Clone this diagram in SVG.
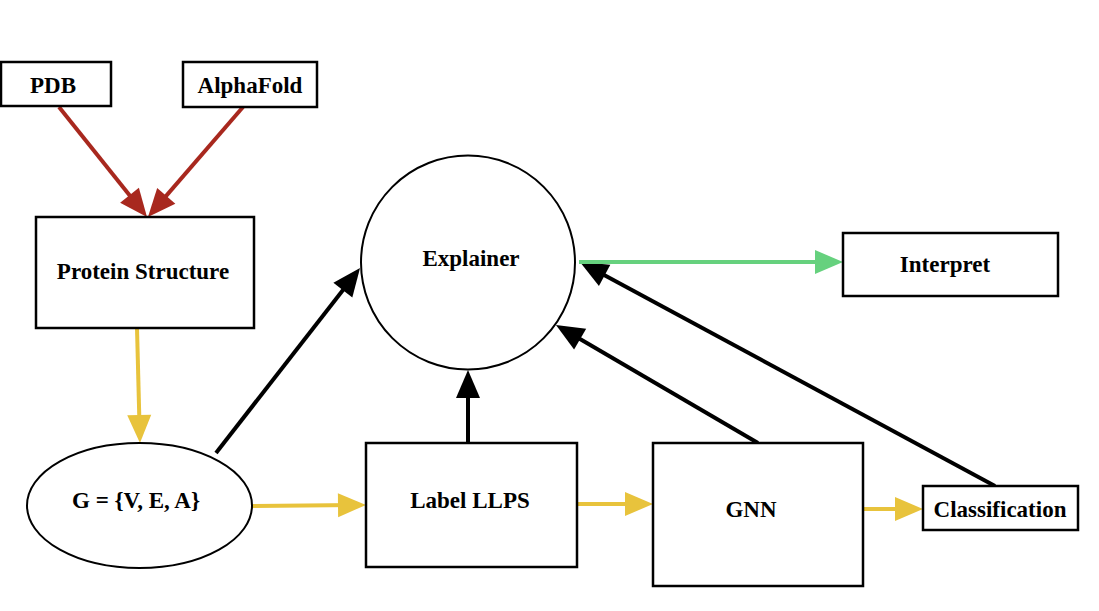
<svg xmlns="http://www.w3.org/2000/svg" width="1099" height="611" viewBox="0 0 1099 611">
<style>
.box{fill:#fff;stroke:#000;stroke-width:2.5}
.oval{fill:#fff;stroke:#000;stroke-width:2}
.lbl{font-family:"Liberation Serif","Times New Roman",serif;font-weight:bold;font-size:23px;fill:#000;text-anchor:middle}
.red{stroke:#A8281E;stroke-width:4;fill:none;marker-end:url(#ah-red)}
.yel{stroke:#E8C33C;stroke-width:4;fill:none;marker-end:url(#ah-yel)}
.blk{stroke:#000;stroke-width:4;fill:none;marker-end:url(#ah-blk)}
.grn{stroke:#66D17E;stroke-width:4;fill:none;marker-end:url(#ah-grn)}
</style>
<defs>
<marker id="ah-red" markerUnits="userSpaceOnUse" markerWidth="28" markerHeight="24" refX="18" refY="12" orient="auto" overflow="visible"><path d="M0,0 L28,12 L0,24 Z" fill="#A8281E"/></marker>
<marker id="ah-yel" markerUnits="userSpaceOnUse" markerWidth="28" markerHeight="24" refX="18" refY="12" orient="auto" overflow="visible"><path d="M0,0 L28,12 L0,24 Z" fill="#E8C33C"/></marker>
<marker id="ah-blk" markerUnits="userSpaceOnUse" markerWidth="28" markerHeight="24" refX="18" refY="12" orient="auto" overflow="visible"><path d="M0,0 L28,12 L0,24 Z" fill="#000"/></marker>
<marker id="ah-grn" markerUnits="userSpaceOnUse" markerWidth="28" markerHeight="24" refX="18" refY="12" orient="auto" overflow="visible"><path d="M0,0 L28,12 L0,24 Z" fill="#66D17E"/></marker>
</defs>
<rect width="1099" height="611" fill="#fff"/>
<g id="connectors">
<line class="red" x1="59" y1="107" x2="140.75" y2="209.2"/>
<line class="red" x1="243" y1="107" x2="154.5" y2="209.4"/>
<line class="yel" x1="137" y1="328" x2="139.7" y2="433"/>
<line class="yel" x1="252" y1="506" x2="356" y2="505"/>
<line class="yel" x1="577" y1="504" x2="643" y2="504"/>
<line class="yel" x1="863" y1="509" x2="913" y2="509"/>
<line class="blk" x1="216" y1="453" x2="353.9" y2="275.9"/>
<line class="blk" x1="468" y1="443" x2="468" y2="380"/>
<line class="blk" x1="758" y1="443" x2="564.6" y2="330"/>
<line class="blk" x1="995" y1="486" x2="588.8" y2="266.8"/>
<line class="grn" x1="579" y1="262" x2="833" y2="262"/>
</g>
<g id="pdb"><rect class="box" x="1" y="62" width="110" height="44"/><text class="lbl" x="53" y="93">PDB</text></g>
<g id="alphafold"><rect class="box" x="183" y="62" width="134" height="45"/><text class="lbl" x="250" y="93">AlphaFold</text></g>
<g id="protein"><rect class="box" x="36" y="217" width="218" height="111"/><text class="lbl" x="143" y="279">Protein Structure</text></g>
<g id="explainer"><circle class="oval" cx="468" cy="262.5" r="107"/><text class="lbl" x="471" y="266">Explainer</text></g>
<g id="interpret"><rect class="box" x="843" y="233" width="215" height="63"/><text class="lbl" x="945" y="272">Interpret</text></g>
<g id="graph"><ellipse class="oval" cx="139.5" cy="505.5" rx="112.5" ry="62.5"/><text class="lbl" x="136" y="508">G = {V, E, A}</text></g>
<g id="label"><rect class="box" x="366" y="443" width="211" height="124"/><text class="lbl" x="470" y="508">Label LLPS</text></g>
<g id="gnn"><rect class="box" x="653" y="443" width="210" height="143"/><text class="lbl" x="751" y="517">GNN</text></g>
<g id="classification"><rect class="box" x="923" y="486" width="155" height="44"/><text class="lbl" x="1000" y="517">Classification</text></g>
</svg>
